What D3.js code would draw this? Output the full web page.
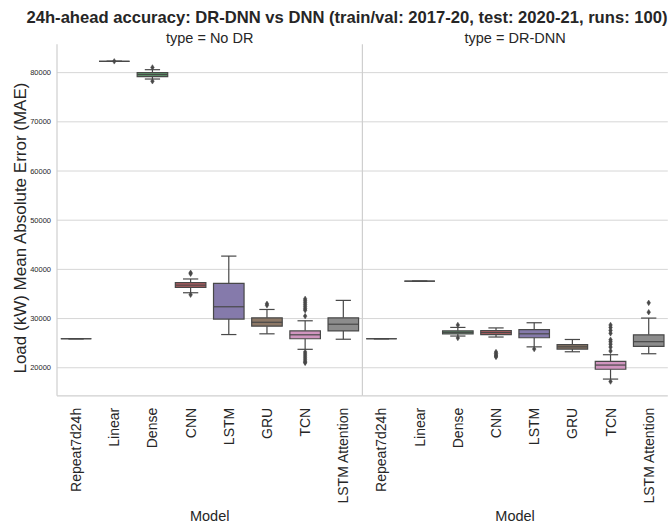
<!DOCTYPE html>
<html>
<head>
<meta charset="utf-8">
<script src="https://cdn.jsdelivr.net/npm/d3@7"></script>
<style>
  html, body { margin: 0; padding: 0; background: #fff; }
  text { font-family: "Liberation Sans", Arial, sans-serif; fill: #262626; }
</style>
</head>
<body>
<svg id="chart" width="671" height="525"></svg>
<script>
// Model order along each facet's x axis
const models = ["Repeat7d24h", "Linear", "Dense", "CNN", "LSTM", "GRU", "TCN", "LSTM Attention"];
// Facet panels
const types = ["No DR", "DR-DNN"];
// Box colours per model (seaborn "deep", desaturated)
const palette = ["#5975a4", "#cc8963", "#5f9e6e", "#b55d60", "#857aab", "#8d7866", "#d095bf", "#8c8c8c"];
// y-axis tick values
const yTicks = [20000, 30000, 40000, 50000, 60000, 70000, 80000];

// Box summaries per model: [lower whisker, Q1, median, Q3, upper whisker]  (MAE, kW)
const statsNoDR = [
  [25900, 25900, 25900, 25900, 25900],
  [82300, 82300, 82300, 82300, 82300],
  [78700, 79200, 79600, 80000, 80600],
  [35250, 36350, 36800, 37300, 38050],
  [26750, 29900, 32400, 37150, 42700],
  [26900, 28450, 29250, 30150, 31850],
  [23750, 25900, 26700, 27500, 29550],
  [25800, 27500, 28850, 30150, 33700]
];
const statsDR = [
  [25900, 25900, 25900, 25900, 25900],
  [37600, 37600, 37600, 37600, 37600],
  [26450, 26900, 27200, 27500, 28200],
  [26250, 26750, 27150, 27550, 28100],
  [24250, 26100, 26900, 27750, 29150],
  [23250, 23800, 24250, 24700, 25750],
  [17700, 19700, 20550, 21300, 22650],
  [22850, 24350, 25300, 26700, 30100]
];
// Outlying runs per model
const outliersNoDR = [
  [],
  [82300],
  [81050, 78250],
  [39300, 39100, 34850],
  [],
  [33000, 32700],
  [34000, 33600, 33200, 32800, 32400, 32000, 31700, 30500, 23200, 22800, 22400, 22000, 21600, 21200, 21000],
  []
];
const outliersDR = [
  [],
  [],
  [28700, 26050],
  [23200, 22900, 22600, 22400, 22200],
  [23800],
  [],
  [28700, 28200, 27600, 27000, 25700, 25300, 24800, 24200, 23400, 17200],
  [33200, 31300]
];

const panelStats = [statsNoDR, statsDR];
const panelOutliers = [outliersNoDR, outliersDR];

const svg = d3.select("#chart");
const plotTop = 44.3, plotBottom = 395.8;
const panelX = [[57, 362.4], [362.4, 667.8]];
const lineCol = "#484848";
const gridCol = "#d6d6d6";

const y = d3.scaleLinear().domain([14300, 85760]).range([plotBottom, plotTop]);

// Figure title
svg.append("text")
  .attr("x", 347).attr("y", 22.5)
  .attr("text-anchor", "middle")
  .style("font-size", "16.6px").style("font-weight", "bold")
  .text("24h-ahead accuracy: DR-DNN vs DNN (train/val: 2017-20, test: 2020-21, runs: 100)");

// Thin diamond marker used for outliers
function diamond(cx, cy) {
  const h = 2.8, w = 1.8;
  return `M${cx},${cy - h}L${cx + w},${cy}L${cx},${cy + h}L${cx - w},${cy}Z`;
}

types.forEach((t, p) => {
  const [x0, x1] = panelX[p];
  const x = d3.scaleBand().domain(models).range([x0, x1]).paddingInner(0).paddingOuter(0);
  const g = svg.append("g");

  // horizontal grid
  g.selectAll("line.grid").data(yTicks).join("line")
    .attr("x1", x0).attr("x2", x1)
    .attr("y1", d => y(d)).attr("y2", d => y(d))
    .attr("stroke", gridCol).attr("stroke-width", 1);

  // facet title
  svg.append("text")
    .attr("x", (x0 + x1) / 2).attr("y", 43)
    .attr("text-anchor", "middle")
    .style("font-size", "14.5px")
    .text("type = " + t);

  const bw = x.bandwidth() * 0.8;
  models.forEach((m, i) => {
    const [lo, q1, med, q3, hi] = panelStats[p][i];
    const cx = x(m) + x.bandwidth() / 2;
    const bx0 = cx - bw / 2, bx1 = cx + bw / 2;
    const cap = bw / 4;
    const gb = g.append("g");
    // whiskers
    gb.append("line").attr("x1", cx).attr("x2", cx).attr("y1", y(q3)).attr("y2", y(hi))
      .attr("stroke", lineCol).attr("stroke-width", 1.2);
    gb.append("line").attr("x1", cx).attr("x2", cx).attr("y1", y(q1)).attr("y2", y(lo))
      .attr("stroke", lineCol).attr("stroke-width", 1.2);
    // caps
    [hi, lo].forEach(v => {
      gb.append("line").attr("x1", cx - cap).attr("x2", cx + cap).attr("y1", y(v)).attr("y2", y(v))
        .attr("stroke", lineCol).attr("stroke-width", 1.2);
    });
    // box
    gb.append("path")
      .attr("d", `M${bx0},${y(q3)}H${bx1}V${y(q1)}H${bx0}Z`)
      .attr("fill", palette[i]).attr("stroke", lineCol).attr("stroke-width", 1.2);
    // median
    gb.append("line").attr("x1", bx0).attr("x2", bx1).attr("y1", y(med)).attr("y2", y(med))
      .attr("stroke", lineCol).attr("stroke-width", 1.2);
    // outliers
    gb.selectAll("path.out").data(panelOutliers[p][i]).join("path")
      .attr("d", v => diamond(cx, y(v)))
      .attr("fill", lineCol).attr("stroke", lineCol).attr("stroke-width", 0.5);
  });

  // spines (left and bottom)
  g.append("line").attr("x1", x0).attr("x2", x0).attr("y1", plotTop).attr("y2", plotBottom)
    .attr("stroke", "#cfcfcf").attr("stroke-width", 1.2);
  g.append("line").attr("x1", x0).attr("x2", x1).attr("y1", plotBottom).attr("y2", plotBottom)
    .attr("stroke", "#cfcfcf").attr("stroke-width", 1.2);

  // x tick labels, rotated
  g.selectAll("text.xt").data(models).join("text")
    .attr("transform", d => `translate(${x(d) + x.bandwidth() / 2 + 5},${plotBottom + 12}) rotate(-90)`)
    .attr("text-anchor", "end")
    .style("font-size", "14px")
    .text(d => d);

  // x axis label
  svg.append("text")
    .attr("x", (x0 + x1) / 2).attr("y", 521)
    .attr("text-anchor", "middle")
    .style("font-size", "14.5px")
    .text("Model");

  // y tick labels on the first panel only
  if (p === 0) {
    g.selectAll("text.yt").data(yTicks).join("text")
      .attr("x", x0 - 6).attr("y", d => y(d))
      .attr("dy", "0.35em")
      .attr("text-anchor", "end")
      .style("font-size", "7.5px")
      .text(d => d);
    svg.append("text")
      .attr("transform", `translate(26,${(plotTop + plotBottom) / 2 + 8}) rotate(-90)`)
      .attr("text-anchor", "middle")
      .style("font-size", "17px")
      .text("Load (kW) Mean Absolute Error (MAE)");
  }
});
</script>
</body>
</html>
